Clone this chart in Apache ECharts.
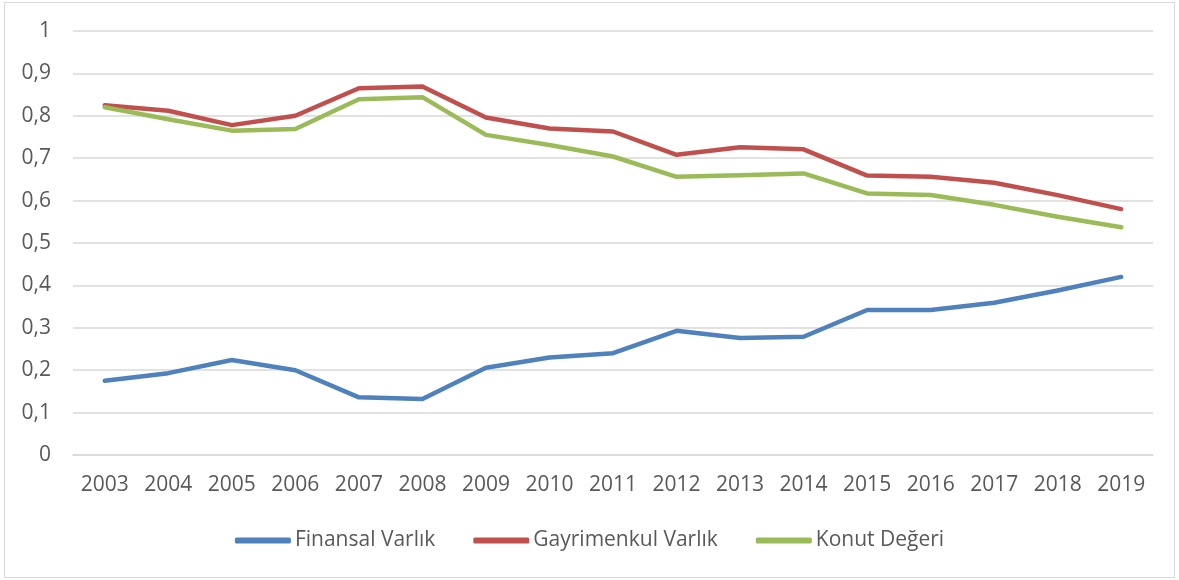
<!DOCTYPE html>
<html>
<head>
<meta charset="utf-8">
<script src="https://cdn.jsdelivr.net/npm/echarts@6/dist/echarts.min.js"></script>
<style>
  html, body { margin: 0; padding: 0; background: #fff; }
  #main { position: absolute; left: 4px; top: 2px; width: 1169px; height: 574px; border: 1px solid #d9d9d9; }
</style>
</head>
<body>
<div id="main"></div>
<script>
// yillar
var years = ['2003','2004','2005','2006','2007','2008','2009','2010','2011','2012','2013','2014','2015','2016','2017','2018','2019'];
var finansal = [0.175, 0.193, 0.224, 0.200, 0.136, 0.132, 0.206, 0.230, 0.240, 0.293, 0.276, 0.279, 0.342, 0.342, 0.359, 0.388, 0.420];
var gayrimenkul = [0.825, 0.812, 0.778, 0.800, 0.865, 0.869, 0.796, 0.770, 0.763, 0.708, 0.726, 0.721, 0.659, 0.656, 0.642, 0.613, 0.580];
var konut = [0.820, 0.792, 0.765, 0.769, 0.839, 0.844, 0.755, 0.731, 0.704, 0.656, 0.660, 0.664, 0.617, 0.613, 0.590, 0.562, 0.537];

var fontName = 'Open Sans';
var txtColor = '#595959';

function mkSeries(name, data, color) {
    return {
        name: name,
        type: 'line',
        data: data,
        symbol: 'none',
        smooth: false,
        lineStyle: { width: 4.5, color: color, cap: 'round', join: 'round' },
        itemStyle: { color: color }
    };
}

var myChart = echarts.init(document.getElementById('main'));
myChart.setOption({
    animation: false,
    textStyle: { fontFamily: fontName },
    grid: { left: 68, right: 21, top: 28, bottom: 122, containLabel: false },
    legend: {
        bottom: 21,
        left: 'center',
        icon: 'roundRect',
        itemWidth: 56,
        itemHeight: 6,
        itemGap: 38,
        textStyle: { color: txtColor, fontSize: 21, fontFamily: fontName, padding: [0, 0, 0, -1] },
        data: ['Finansal Varlık', 'Gayrimenkul Varlık', 'Konut Değeri']
    },
    xAxis: {
        type: 'category',
        data: years,
        boundaryGap: true,
        axisLine: { show: true, lineStyle: { color: '#d9d9d9', width: 1.5 } },
        axisTick: { show: false },
        axisLabel: { color: txtColor, fontSize: 21, margin: 20 }
    },
    yAxis: {
        type: 'value',
        min: 0,
        max: 1,
        interval: 0.1,
        axisLine: { show: false },
        axisTick: { show: false },
        splitLine: { lineStyle: { color: '#d9d9d9', width: 1.5 } },
        axisLabel: {
            color: txtColor,
            fontSize: 21,
            margin: 22,
            formatter: function (v) {
                return String(Math.round(v * 10) / 10).replace('.', ',');
            }
        }
    },
    series: [
        mkSeries('Finansal Varlık', finansal, '#4F81BD'),
        mkSeries('Gayrimenkul Varlık', gayrimenkul, '#C0504D'),
        mkSeries('Konut Değeri', konut, '#9BBB59')
    ]
});
</script>
</body>
</html>
